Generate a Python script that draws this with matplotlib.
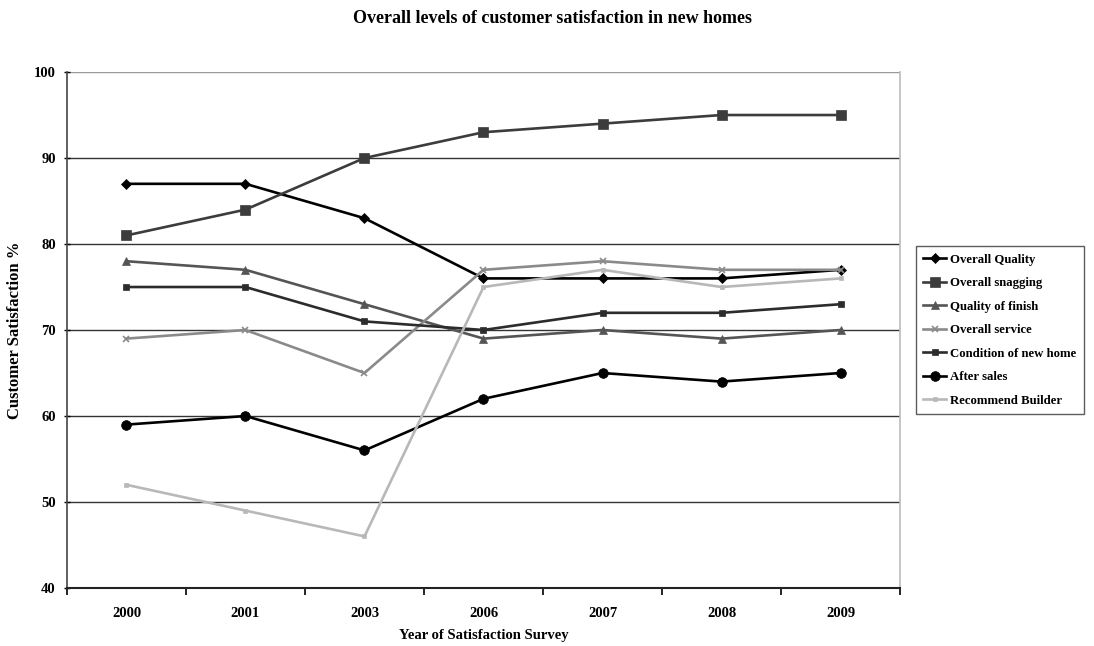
import matplotlib
matplotlib.use("Agg")
import matplotlib.pyplot as plt

years = ["2000", "2001", "2003", "2006", "2007", "2008", "2009"]
overall_quality = [87, 87, 83, 76, 76, 76, 77]
overall_snagging = [81, 84, 90, 93, 94, 95, 95]
quality_finish = [78, 77, 73, 69, 70, 69, 70]
overall_service = [69, 70, 65, 77, 78, 77, 77]
condition_home = [75, 75, 71, 70, 72, 72, 73]
after_sales = [59, 60, 56, 62, 65, 64, 65]
recommend_builder = [52, 49, 46, 75, 77, 75, 76]

series = [
    ("Overall Quality", overall_quality, "#000000", "D", 5),
    ("Overall snagging", overall_snagging, "#3c3c3c", "s", 7),
    ("Quality of finish", quality_finish, "#555555", "^", 6),
    ("Overall service", overall_service, "#8a8a8a", "x", 4),
    ("Condition of new home", condition_home, "#2c2c2c", "s", 5),
    ("After sales", after_sales, "#000000", "o", 7),
    ("Recommend Builder", recommend_builder, "#b8b8b8", "s", 3),
]

plt.rcParams['font.family'] = ['Liberation Serif', 'DejaVu Serif']
plt.rcParams['font.weight'] = 'bold'

fig = plt.figure(figsize=(10.94, 6.46), dpi=100)
ax = fig.add_axes([0.0612, 0.0898, 0.7615, 0.7987])

x = list(range(len(years)))
handles = []
for name, vals, col, mk, ms in series:
    h, = ax.plot(x, vals, color=col, marker=mk, markersize=ms, linewidth=1.9,
                 markeredgewidth=1.2 if mk == "x" else 0.5, label=name, zorder=3)
    handles.append(h)

ax.set_ylim(40, 100)
ax.set_xlim(-0.5, len(years) - 0.5)
ax.set_yticks(range(40, 101, 10))
ax.set_yticklabels([str(v) for v in range(40, 101, 10)], fontsize=10.5, fontweight='bold')
ax.set_xticks(x)
ax.set_xticklabels(years, fontsize=10.5, fontweight='bold')
ax.set_xticks([i - 0.5 for i in range(len(years) + 1)], minor=True)
ax.tick_params(axis='x', which='major', length=0, pad=14)
ax.tick_params(axis='x', which='minor', length=5, width=1.2, direction='out')
ax.tick_params(axis='y', length=4, width=1, direction='inout', pad=6)

for v in range(50, 101, 10):
    ax.axhline(v, color="#333333" if v != 100 else "#999999", linewidth=1.0, zorder=1)

ax.spines['left'].set_color('#444444')
ax.spines['left'].set_linewidth(1.2)
ax.spines['bottom'].set_color('#222222')
ax.spines['bottom'].set_linewidth(1.5)
ax.spines['top'].set_visible(False)
ax.spines['right'].set_color('#bbbbbb')
ax.spines['right'].set_linewidth(1.2)

ax.set_ylabel("Customer Satisfaction %", fontsize=12, fontweight='bold', labelpad=8)
ax.set_xlabel("Year of Satisfaction Survey", fontsize=10.5, fontweight='bold', labelpad=6)
fig.suptitle("Overall levels of customer satisfaction in new homes", fontsize=13,
             fontweight='bold', x=0.505, y=0.985)

leg = fig.legend(handles=handles, loc='center left', bbox_to_anchor=(0.831, 0.489),
                 fontsize=9.2, frameon=True, fancybox=False, edgecolor='#333333',
                 handlelength=1.8, labelspacing=0.9, borderpad=0.6, handletextpad=0.3)
leg.get_frame().set_linewidth(1.0)

fig.savefig("out.png", dpi=100)
